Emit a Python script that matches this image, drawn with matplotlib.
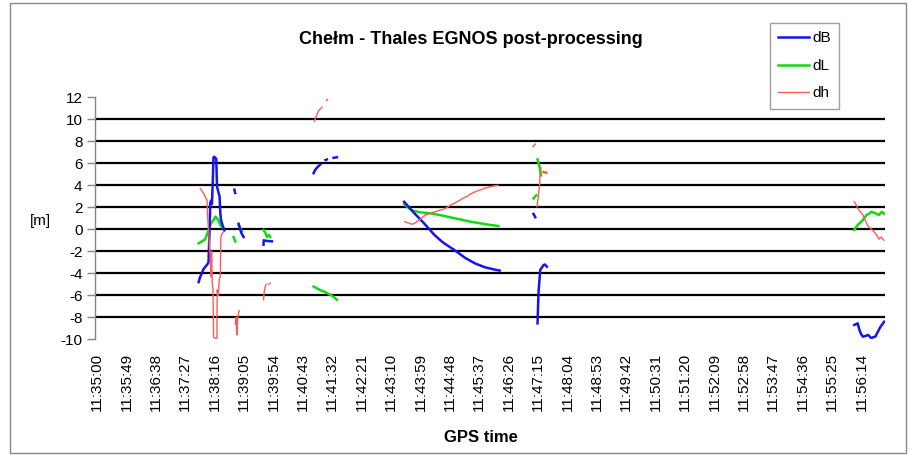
import numpy as np
import matplotlib
matplotlib.use("Agg")
import matplotlib.pyplot as plt
from matplotlib.patches import Rectangle

plt.rcParams['font.family'] = ['Liberation Sans', 'DejaVu Sans']
plt.rcParams['axes.unicode_minus'] = False

nan = float('nan')

# seconds after 11:35:00, nan = gap between recorded pieces
t_dB = [169.4, 171.5, 174.6, 177.7, 180.8, 183.8, 185.9, 187.9, 188.8, 190, 191.6, 193.1, 194.1, 195.1, 197.2, 198.8, 200, 201.3, 204.3, 205.5, 206.6, 208.5, 210.9, 212.1, nan,
        229, 230.3, nan,
        236, 238.3, 240.3, 244.3, nan,
        277.6, 277.8, 282.4, 291.6, nan,
        361, 363.6, 366.6, 372.1, nan,
        381, 383.1, nan,
        394.3, 399.9, nan,
        511.9, 528.3, 545.8, 562.2, 576.6, 596.1, 613.6, 630, 646.4, 661.8, 671.1, nan,
        727.5, 730.4, nan,
        734.2, 735.8, 738.7, 744.2, 746.6, 749.7, nan,
        1262, 1267.8, 1270.7, 1273.2, 1276.5, 1280.8, 1285.2, 1290.6, 1293.9, 1297.2, 1301.5, 1305.9, 1312]
dB = [-4.8, -4.4, -4.0, -3.6, -3.4, -3.2, -3.0, 0.5, 2.4, 2.6, 2.3, 4.5, 6.5, 6.6, 6.5, 6.4, 3.9, 3.6, 3.0, 1.5, 0.9, 0.5, 0.1, -0.1, nan,
      3.6, 3.3, nan,
      0.5, 0.1, -0.3, -0.7, nan,
      -1.4, -1.0, -1.05, -1.1, nan,
      5.1, 5.4, 5.6, 5.9, nan,
      6.3, 6.35, nan,
      6.5, 6.55, nan,
      2.5, 1.5, 0.5, -0.5, -1.2, -1.9, -2.6, -3.1, -3.45, -3.65, -3.75, nan,
      1.4, 1.1, nan,
      -8.55, -5.8, -3.7, -3.25, -3.2, -3.4, nan,
      -8.7, -8.55, -9.15, -9.5, -9.76, -9.7, -9.6, -9.9, -9.8, -9.76, -9.3, -8.85, -8.4]

t_dL = [169.4, 174.6, 179.7, 183.3, 188.8, 191, 194.3, 197.2, 200, 202.3, 205.5, 208.3, 210.9, nan,
        227.6, 229, 230.5, nan,
        236, 238.3, 241.6, nan,
        277.6, 280.4, 283.2, 286.5, 288.8, nan,
        361, 367.7, 374.9, nan,
        377.9, 383.3, 390.3, nan,
        393.3, 399.9, nan,
        511.9, 519, 525.2, 538.5, 555, 571.4, 587.9, 605.3, 621.8, 638.2, 654.6, 669, nan,
        727.5, 732.1, nan,
        734.2, 737.5, 739.9, nan,
        744.2, 748.7, nan,
        1262, 1267.8, 1272.1, 1276.5, 1282.5, 1286.3, 1290.6, 1297.2, 1303.2, 1308.1, 1312]
dL = [-1.27, -1.1, -0.95, -0.5, 0.4, 0.6, 0.85, 1.15, 1.0, 0.8, 0.4, 0.2, 0.1, nan,
      -0.7, -0.9, -1.1, nan,
      0.4, 0.1, -0.2, nan,
      -0.06, -0.3, -0.7, -0.5, -0.7, nan,
      -5.2, -5.4, -5.6, nan,
      -5.65, -5.8, -6.0, nan,
      -6.1, -6.4, nan,
      2.3, 1.95, 1.7, 1.55, 1.45, 1.3, 1.1, 0.9, 0.7, 0.55, 0.4, 0.3, nan,
      2.8, 3.1, nan,
      6.36, 5.7, 4.9, nan,
      5.2, 5.15, nan,
      -0.06, 0.4, 0.6, 0.85, 1.3, 1.4, 1.6, 1.45, 1.3, 1.6, 1.4]

t_dh = [172.1, 174.6, 177.7, 180.8, 183.3, 184.3, 186, 187.4, 188.8, 190, 191, 192, 193.3, 194.3, 196.2, 200, 200.3, 202.3, 203.9, 205.5, 206.2, 206.6, 208.5, 210.9, nan,
        230.5, 231.6, 232.6, 233.3, 234.2, 236, 237.2, nan,
        277.6, 278.8, 280.4, 281.9, nan,
        285.9, 288.6, nan,
        362.1, 365.6, 369.7, 375, nan,
        382.6, 384.1, nan,
        512.9, 517, 521.1, 525.2, 529.3, 533.4, 537.5, 540.6, 546.8, 550.9, 555, 560.1, 564.2, 571.4, 576.6, 580.7,
        589.9, 595.1, 600.2, 606.4, 612.5, 617.7, 621.8, 628, 634.1, 640.2, 646.4, 651.6, 656.7, 662.9, 668, nan,
        726.5, 730.4, nan,
        733.2, 735.3, 737.5, 738.7, 740, nan,
        744.2, 749.7, nan,
        1262, 1264.5, 1267.8, 1272.1, 1276.5, 1279.8, 1282.5, 1285.2, 1288.5, 1292.8, 1297.2, 1300.5, 1303.2, 1307, 1311.3]
dh = [3.7, 3.5, 3.27, 2.9, 2.66, 1.15, -0.06, -1.5, -2.5, -4.3, -2.0, -4.8, -5.5, -9.8, -9.9, -9.9, -5.5, -6.0, -4.5, -4.3, -1.5, -0.67, -0.4, -0.2, nan,
      -8.6, -8.0, -9.0, -9.6, -8.3, -7.6, -7.4, nan,
      -6.4, -5.6, -5.2, -5.0, nan,
      -5.0, -4.9, nan,
      9.8, 10.3, 10.8, 11.1, nan,
      11.7, 11.8, nan,
      0.7, 0.6, 0.55, 0.45, 0.55, 0.7, 0.85, 1.0, 1.3, 1.35, 1.45, 1.55, 1.6, 1.75, 1.8, 1.9,
      2.2, 2.35, 2.5, 2.7, 2.9, 3.0, 3.2, 3.35, 3.5, 3.6, 3.75, 3.8, 3.9, 3.95, 4.0, nan,
      7.5, 7.75, nan,
      2.05, 2.9, 3.9, 5.1, 5.6, nan,
      5.2, 5.1, nan,
      2.5, 2.3, 1.9, 1.6, 1.3, 0.9, 0.55, 0.3, 0.1, -0.1, -0.36, -0.6, -0.9, -0.7, -1.0]

tick_seconds = list(range(0, 1275, 49))
tick_labels = ["11:35:00", "11:35:49", "11:36:38", "11:37:27", "11:38:16", "11:39:05",
               "11:39:54", "11:40:43", "11:41:32", "11:42:21", "11:43:10", "11:43:59",
               "11:44:48", "11:45:37", "11:46:26", "11:47:15", "11:48:04", "11:48:53",
               "11:49:42", "11:50:31", "11:51:20", "11:52:09", "11:52:58", "11:53:47",
               "11:54:36", "11:55:25", "11:56:14"]
y_ticks = list(range(-10, 13, 2))

W, H = 914, 455
fig = plt.figure(figsize=(W / 100, H / 100), dpi=100)
ax = fig.add_axes([95 / W, 1 - 339.3 / H, (885 - 95) / W, (339.3 - 97.3) / H])

ax.plot(t_dB, dB, color='#1414F0', lw=1.8, label='dB', zorder=4)
ax.plot(t_dL, dL, color='#14D814', lw=1.8, label='dL', zorder=3)
ax.plot(t_dh, dh, color='#FF5A5A', lw=1.0, label='dh', zorder=5)

ax.set_xlim(-3.3, 1313.3)
ax.set_ylim(-10, 12)
ax.set_yticks(y_ticks)
ax.set_xticks(tick_seconds)
ax.set_xticklabels(tick_labels, rotation=90, fontsize=11)
ax.tick_params(axis='x', length=0, pad=10)
ax.tick_params(axis='y', length=6, width=1, color='#868686', pad=3, labelsize=11)

for v in y_ticks[1:-1]:
    ax.axhline(v, color='black', lw=1.6, zorder=1)

for s in ['top', 'right', 'bottom']:
    ax.spines[s].set_visible(False)
ax.spines['left'].set_color('#868686')
ax.spines['left'].set_linewidth(1)

fig.text(471 / W, 1 - 40 / H, "Chełm - Thales EGNOS post-processing", ha='center', va='center',
         fontsize=13, fontweight='bold')
fig.text(40 / W, 1 - 221 / H, "[m]", ha='center', va='center', fontsize=11)
fig.text(481 / W, 1 - 437 / H, "GPS time", ha='center', va='center', fontsize=12, fontweight='bold')

leg = fig.legend(loc='upper left', bbox_to_anchor=(770 / W, 1 - 23 / H), fontsize=11,
                 frameon=True, fancybox=False, edgecolor='#888888', labelspacing=0.88,
                 handlelength=2.0, handletextpad=0.2, borderpad=0.55, borderaxespad=0)
leg.get_frame().set_linewidth(1)

fig.patches.append(Rectangle((10 / W, 2 / H), (906 - 10) / W, (452 - 2) / H, transform=fig.transFigure,
                             fill=False, edgecolor='#888888', lw=1))

fig.savefig("out.png", dpi=100)
